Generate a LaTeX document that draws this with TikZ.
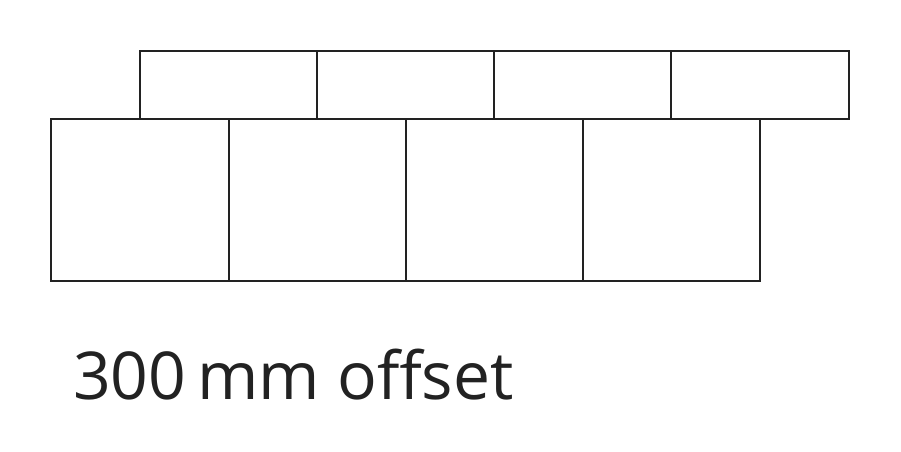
\documentclass[tikz,border=0pt]{standalone}
\usepackage{fontspec}
\setmainfont{Open Sans}
\definecolor{ink}{HTML}{222222}
\begin{document}
\begin{tikzpicture}[x=1pt,y=-1pt,
  tile/.style={draw=ink,line width=2pt,line join=miter}]
\useasboundingbox (0,0) rectangle (901,451);
% top row
\foreach \a/\b in {140/317,317/494,494/671,671/849}
  \draw[tile] (\a,51) rectangle (\b,119);
% bottom row
\foreach \a/\b in {51/229,229/406,406/583,583/760}
  \draw[tile] (\a,119) rectangle (\b,281);
\node[anchor=base west,inner sep=0pt,text=ink,font=\fontsize{66}{70}\selectfont] (lbl) at (73,399) {300\,mm offset};
\end{tikzpicture}
\end{document}
